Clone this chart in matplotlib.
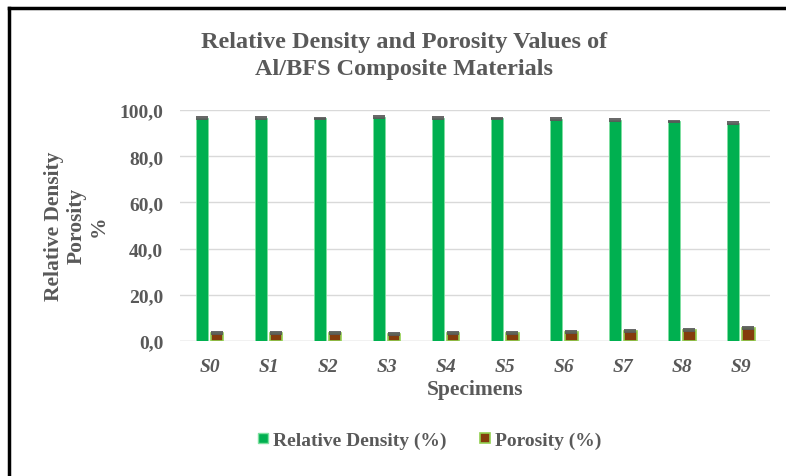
import matplotlib.pyplot as plt
from matplotlib.lines import Line2D
import numpy as np

# Data
specimens = ["S0", "S1", "S2", "S3", "S4", "S5", "S6", "S7", "S8", "S9"]
relative_density = [96.6, 96.6, 96.5, 97.0, 96.6, 96.5, 96.1, 95.7, 95.2, 94.4]
porosity = [3.4, 3.4, 3.5, 3.0, 3.4, 3.5, 3.9, 4.3, 4.8, 5.6]
density_err = [0.3] * 10
porosity_err = [0.3] * 10

plt.rcParams['font.family'] = ['Liberation Serif', 'DejaVu Serif']
grey = '#595959'

fig = plt.figure(figsize=(7.86, 4.77), dpi=100)
ax = fig.add_axes([0.229, 0.283, 0.751, 0.484])

x = np.arange(len(specimens))
w = 0.21
ekw = dict(elinewidth=0, capthick=1.3)
ax.bar(x - 0.13, relative_density, w, color='#00B050', edgecolor='#7FE0A0', linewidth=0.6,
       yerr=density_err, ecolor=grey, capsize=4.3, error_kw=ekw,
       label='Relative Density (%)', zorder=3)
ax.bar(x + 0.13, porosity, w, color='#843C0C', edgecolor='#92D050', linewidth=1.2,
       yerr=porosity_err, ecolor=grey, capsize=4.3, error_kw=ekw,
       label='Porosity (%)', zorder=3)

ax.set_xlim(-0.5, len(specimens) - 0.5)
ax.set_ylim(0, 100)
ax.set_yticks(np.arange(0, 101, 20))
ax.set_yticklabels([f"{v:.1f}".replace('.', ',') for v in np.arange(0, 101, 20)],
                   fontsize=14, fontweight='bold', color=grey)
ax.set_xticks(x)
ax.set_xticklabels(specimens, fontsize=14, fontweight='bold', style='italic', color=grey)
ax.tick_params(axis='y', length=0, pad=12)
ax.tick_params(axis='x', length=0, pad=12)
ax.grid(axis='y', color='#D9D9D9', linewidth=1, zorder=0)
for s in ax.spines.values():
    s.set_visible(False)
ax.axhline(0, color='#D9D9D9', linewidth=1, zorder=1)

ax.set_xlabel("Specimens", fontsize=15.5, fontweight='bold', color=grey, labelpad=3)
fig.text(0.097, 1 - 226 / 477, "Relative Density\nPorosity\n%", rotation=90,
         ha='center', va='center', fontsize=15.5, fontweight='bold', color=grey,
         multialignment='center', linespacing=1.15)

fig.text(0.514, 1 - 56 / 477, "Relative Density and Porosity Values of\nAl/BFS Composite Materials",
         ha='center', va='center', fontsize=17.5, fontweight='bold', color=grey, linespacing=1.35)

handles = [Line2D([], [], marker='s', linestyle='', markersize=7, markerfacecolor='#00B050',
                  markeredgecolor='#7FE0A0'),
           Line2D([], [], marker='s', linestyle='', markersize=7, markerfacecolor='#843C0C',
                  markeredgecolor='#92D050', markeredgewidth=1.2)]
fig.legend(handles, ['Relative Density (%)', 'Porosity (%)'], loc='center',
           bbox_to_anchor=(0.545, 1 - 441 / 477), ncol=2, frameon=False,
           prop=dict(size=14, weight='bold'), labelcolor=grey,
           handletextpad=0.1, columnspacing=1.6, handlelength=0.8)

# left/top frame border
fig.add_artist(Line2D([9 / 786, 9 / 786], [0, 1 - 9 / 477], color='black', linewidth=2.5,
                      transform=fig.transFigure))
fig.add_artist(Line2D([9 / 786, 1], [1 - 9 / 477, 1 - 9 / 477], color='black', linewidth=2.5,
                      transform=fig.transFigure))

fig.savefig("out.png", dpi=100)
